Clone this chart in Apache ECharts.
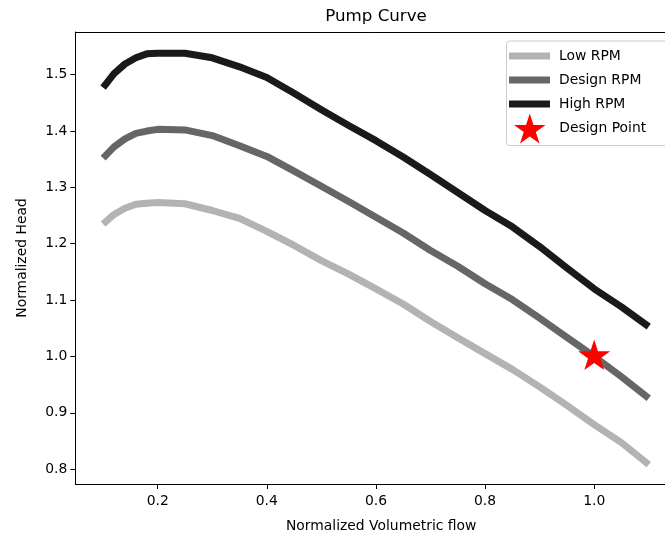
<!DOCTYPE html>
<html>
<head>
<meta charset="utf-8">
<script src="https://cdn.jsdelivr.net/npm/echarts@6/dist/echarts.min.js"></script>
<style>html,body{margin:0;padding:0;background:#fff}#c{width:665px;height:538px}</style>
</head>
<body>
<div id="c"></div>
<script>
const flow = [0.10,0.12,0.14,0.16,0.18,0.20,0.25,0.30,0.35,0.40,0.45,0.50,0.55,0.60,0.65,0.70,0.75,0.80,0.85,0.90,0.95,1.00,1.05,1.10];
const lowRPM = [1.235,1.252,1.263,1.270,1.272,1.273,1.271,1.259,1.245,1.222,1.197,1.170,1.146,1.120,1.093,1.062,1.033,1.005,0.977,0.946,0.913,0.879,0.847,0.808];
const designRPM = [1.352,1.372,1.386,1.396,1.400,1.403,1.402,1.392,1.374,1.355,1.329,1.302,1.275,1.247,1.219,1.188,1.160,1.129,1.101,1.068,1.034,1.000,0.964,0.926];
const highRPM = [1.477,1.502,1.519,1.530,1.537,1.538,1.538,1.530,1.514,1.495,1.467,1.438,1.410,1.383,1.354,1.323,1.291,1.259,1.230,1.195,1.157,1.120,1.088,1.053];
const designPoint = [1.0, 1.0];
const xTicks = [0.2,0.4,0.6,0.8,1.0];
const yTicks = [0.8,0.9,1.0,1.1,1.2,1.3,1.4,1.5];

const FONT = 'DejaVu Sans';
const STAR = 'path://M95.11 0L117.56 69.10L190.22 69.10L131.44 111.80L153.89 180.90L95.11 138.20L36.33 180.90L58.78 111.80L0 69.10L72.66 69.10Z';
const pairs = ys => flow.map((x, i) => [x, ys[i]]);

const chart = echarts.init(document.getElementById('c'), null, {renderer: 'canvas', width: 665, height: 538});
const lineSeries = (name, ys, color) => ({
  name, type: 'line', data: pairs(ys), showSymbol: false, symbol: 'none',
  color, lineStyle: {color, width: 7, cap: 'butt', join: 'round'}, z: 2, animation: false
});
chart.setOption({
  animation: false,
  backgroundColor: '#fff',
  title: {
    text: 'Pump Curve', left: 371, top: 3, textAlign: 'center',
    textStyle: {fontFamily: FONT, fontSize: 16.7, fontWeight: 'normal', color: '#000'}
  },
  grid: {left: 75.3, top: 32, right: 0, height: 455.3},
  xAxis: [{
    type: 'value', min: 0.049, max: 1.1298,
    name: 'Normalized Volumetric flow', nameLocation: 'middle', nameGap: 35,
    nameTextStyle: {fontFamily: FONT, fontSize: 13.9, color: '#000', padding: [0, 0, 0, 22]},
    axisLine: {show: true, lineStyle: {color: '#000', width: 1}},
    axisTick: {show: true, length: 5, lineStyle: {color: '#000'}, customValues: xTicks},
    axisLabel: {fontFamily: FONT, fontSize: 13.9, color: '#000', margin: 10, customValues: xTicks,
      formatter: v => v.toFixed(1)},
    splitLine: {show: false}
  }, {
    type: 'value', position: 'top', min: 0.049, max: 1.1298,
    axisLine: {show: true, onZero: false, lineStyle: {color: '#000', width: 1}},
    axisTick: {show: false}, axisLabel: {show: false}, splitLine: {show: false}
  }],
  yAxis: {
    type: 'value', min: 0.7736, max: 1.5758,
    name: 'Normalized Head', nameLocation: 'middle', nameGap: 46, nameRotate: 90,
    nameTextStyle: {fontFamily: FONT, fontSize: 13.9, color: '#000'},
    axisLine: {show: true, lineStyle: {color: '#000', width: 1}},
    axisTick: {show: true, length: 5, lineStyle: {color: '#000'}, customValues: yTicks},
    axisLabel: {fontFamily: FONT, fontSize: 13.9, color: '#000', margin: 8, customValues: yTicks,
      formatter: v => v.toFixed(1)},
    splitLine: {show: false}
  },
  legend: [
    {
      orient: 'vertical', left: 504, top: 43, itemWidth: 41, itemHeight: 7, itemGap: 8,
      data: [{name: 'Low RPM', icon: 'rect'}, {name: 'Design RPM', icon: 'rect'}, {name: 'High RPM', icon: 'rect'}],
      textStyle: {fontFamily: FONT, fontSize: 13.9, color: '#000', lineHeight: 16, padding: [0,0,0,4]},
      selectedMode: false
    },
    {
      orient: 'vertical', left: 509, top: 108.5, itemWidth: 41, itemHeight: 30,
      data: [{name: 'Design Point', icon: STAR, itemStyle: {opacity: 1}}],
      textStyle: {fontFamily: FONT, fontSize: 13.9, color: '#000', padding: [0,0,0,4]},
      selectedMode: false
    }
  ],
  graphic: [{
    type: 'rect', left: 506, top: 40.5, z: -1,
    shape: {width: 170, height: 104.5, r: 3},
    style: {fill: 'rgba(255,255,255,0.8)', stroke: '#cccccc', lineWidth: 1}
  }],
  series: [
    lineSeries('Low RPM', lowRPM, '#b3b3b3'),
    lineSeries('Design RPM', designRPM, '#666666'),
    lineSeries('High RPM', highRPM, '#1a1a1a'),
    {
      name: 'Design Point', type: 'scatter', data: [designPoint], symbol: STAR,
      symbolSize: [32, 30.5], symbolOffset: [0, -1.6], color: '#ff0000',
      itemStyle: {color: '#ff0000', opacity: 1}, z: 5
    }
  ]
});
</script>
</body>
</html>
